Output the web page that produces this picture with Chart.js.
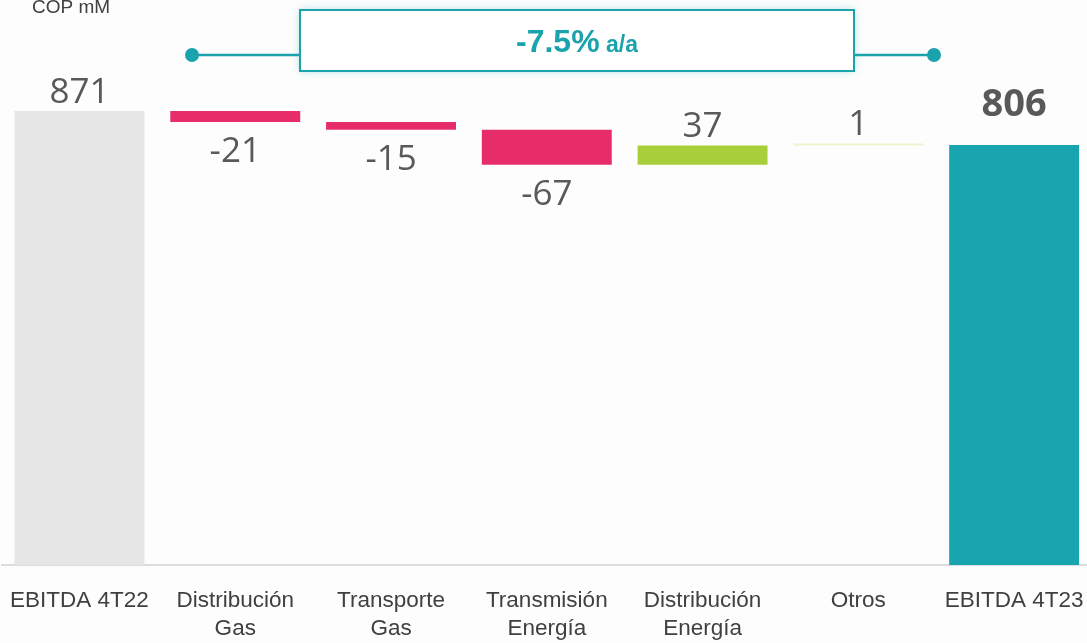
<!DOCTYPE html>
<html>
<head>
<meta charset="utf-8">
<script src="https://cdn.jsdelivr.net/npm/chart.js@4.4.1/dist/chart.umd.min.js"></script>
<style>
  html, body { margin: 0; padding: 0; background: #fdfdfd; overflow: hidden; }
  #wrap { position: relative; width: 1092px; height: 643px; }
</style>
</head>
<body>
<div id="wrap"><canvas id="chart"></canvas></div>
<script>
// Data (COP mM)
const categories = [
  "EBITDA 4T22",
  ["Distribución", "Gas"],
  ["Transporte", "Gas"],
  ["Transmisión", "Energía"],
  ["Distribución", "Energía"],
  "Otros",
  "EBITDA 4T23",
];
const startTotal = 871;
const deltas = [-21, -15, -67, 37, 1];
const endTotal = 806;
const changeText = "-7.5%";

// Build floating ranges for the waterfall
const ranges = [[0, startTotal]];
const labels = [String(startTotal)];
let running = startTotal;
deltas.forEach((d) => {
  ranges.push([running, running + d]);
  labels.push(String(d));
  running += d;
});
ranges.push([0, endTotal]);
labels.push(String(endTotal));

const barColors = ranges.map((r, i) => {
  if (i === 0) return "#e6e6e6";
  if (i === ranges.length - 1) return "#18a5af";
  const d = r[1] - r[0];
  if (Math.abs(d) < 2) return "#eef3d2";
  return d < 0 ? "#e62c69" : "#a8ce3a";
});

// Value labels above / below each bar
const valueLabels = {
  id: "valueLabels",
  afterDatasetsDraw(chart) {
    const ctx = chart.ctx;
    const meta = chart.getDatasetMeta(0);
    ctx.save();
    ctx.textAlign = "center";
    ctx.textBaseline = "alphabetic";
    meta.data.forEach((bar, i) => {
      const top = Math.min(bar.y, bar.base);
      const bottom = Math.max(bar.y, bar.base);
      const r = ranges[i];
      const last = i === ranges.length - 1;
      if (last) {
        ctx.font = "bold 38px 'Open Sans'";
        ctx.fillStyle = "#595959";
        ctx.fillText(labels[i], bar.x, top - 29);
        return;
      }
      ctx.font = "35px 'Open Sans'";
      ctx.fillStyle = "#595959";
      if (r[1] - r[0] < 0) {
        ctx.fillText(labels[i], bar.x, bottom + 40);
      } else {
        ctx.fillText(labels[i], bar.x, top - 8);
      }
    });
    ctx.restore();
  },
};

// Bracket with the yearly change box, plus unit note
const changeBox = {
  id: "changeBox",
  afterDraw(chart) {
    const ctx = chart.ctx;
    const teal = "#1aa3ad";
    ctx.save();
    ctx.strokeStyle = teal;
    ctx.lineWidth = 2.5;
    ctx.beginPath();
    ctx.moveTo(192, 55);
    ctx.lineTo(934, 55);
    ctx.stroke();
    ctx.fillStyle = teal;
    [192, 934].forEach((x) => {
      ctx.beginPath();
      ctx.arc(x, 55, 7, 0, Math.PI * 2);
      ctx.fill();
    });

    // box with a soft glow
    ctx.shadowColor = "rgba(26,163,173,0.35)";
    ctx.shadowBlur = 8;
    ctx.fillStyle = "#ffffff";
    ctx.fillRect(300, 10, 554, 61);
    ctx.shadowBlur = 0;
    ctx.lineWidth = 2;
    ctx.strokeRect(300, 10, 554, 61);

    ctx.fillStyle = teal;
    ctx.textBaseline = "alphabetic";
    ctx.textAlign = "left";
    ctx.font = "bold 32px 'Liberation Sans'";
    const w1 = ctx.measureText(changeText).width;
    ctx.font = "bold 23px 'Liberation Sans'";
    const w2 = ctx.measureText(" a/a").width;
    let x = 577 - (w1 + w2) / 2;
    ctx.font = "bold 32px 'Liberation Sans'";
    ctx.fillText(changeText, x, 52);
    ctx.font = "bold 23px 'Liberation Sans'";
    ctx.fillText(" a/a", x + w1, 52);

    ctx.fillStyle = "#404040";
    ctx.font = "19px 'Liberation Sans'";
    ctx.fillText("COP mM", 32, 13);
    ctx.restore();
  },
};

new Chart(document.getElementById("chart"), {
  type: "bar",
  data: {
    labels: categories,
    datasets: [
      {
        data: ranges,
        backgroundColor: barColors,
        barPercentage: 0.834,
        categoryPercentage: 1,
        minBarLength: 2,
      },
    ],
  },
  options: {
    responsive: true,
    maintainAspectRatio: false,
    animation: false,
    layout: { padding: { left: 1.6, right: 0, top: 0, bottom: 0 } },
    plugins: {
      legend: { display: false },
      tooltip: { enabled: false },
    },
    scales: {
      x: {
        grid: { display: false, drawTicks: false },
        border: { display: true, color: "#dcdcdc", width: 2 },
        ticks: {
          color: "#404040",
          font: { family: "'Liberation Sans'", size: 22.5, lineHeight: 1.25 },
          padding: 22,
          maxRotation: 0,
          autoSkip: false,
        },
        afterFit: (scale) => {
          scale.height = 78;
          scale.paddingLeft = 0;
          scale.paddingRight = 0;
        },
      },
      y: {
        display: false,
        min: 0,
        max: 1084,
      },
    },
  },
  plugins: [valueLabels, changeBox],
});
</script>
</body>
</html>
